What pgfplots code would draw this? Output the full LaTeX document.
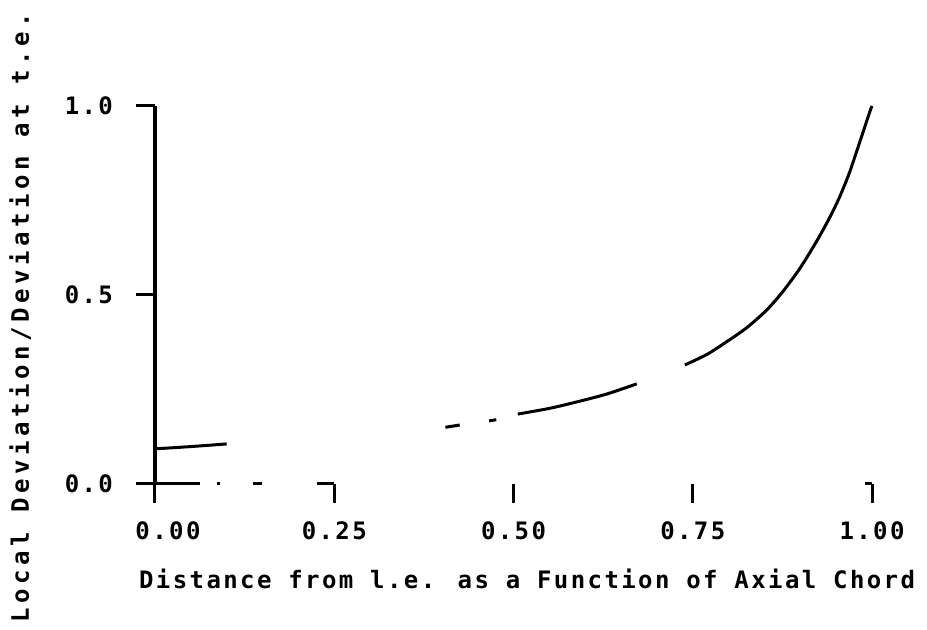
\documentclass[border=0pt]{standalone}
\usepackage{fontspec}
\setmainfont{DejaVu Sans Mono}[LetterSpace=10]
\usepackage{pgfplots}
\pgfplotsset{compat=1.18}

\begin{document}
\begin{tikzpicture}
\begin{axis}[
  width=358.5pt, height=189pt, scale only axis,
  xmin=0, xmax=1, ymin=0, ymax=1,
  axis x line*=bottom, axis y line*=left,
  x axis line style={draw=none},
  y axis line style={line width=1.6pt},
  tick align=outside,
  major tick length=9.5pt,
  every tick/.style={black, line width=1.5pt},
  xtick={0,0.25,0.5,0.75,1},
  xticklabels={\hspace*{13pt}0.00,0.25,0.50,0.75,1.00},
  ytick={0,0.5,1},
  yticklabels={0.0,0.5,1.0},
  font=\fontsize{12pt}{14pt}\selectfont\bfseries,
  xticklabel style={anchor=center, yshift=-14pt},
  yticklabel style={anchor=east, xshift=-8pt},
  xlabel={Distance from l.e. as a Function of Axial Chord},
  ylabel={\addfontfeatures{LetterSpace=19}Local Deviation/Deviation at t.e.},
  xlabel style={at={(axis description cs:0.519,-0.251)}, anchor=center},
  ylabel style={at={(axis description cs:-0.188,0.44)}, anchor=center},
  clip=false,
  unbounded coords=jump,
]
% surviving pieces of the zero line
\addplot[black, line width=1.5pt] coordinates {
  (-0.024,0) (0.063,0) (nan,nan)
  (0.086,0) (0.091,0) (nan,nan)
  (0.137,0) (0.149,0) (nan,nan)
  (0.226,0) (0.25,0) (nan,nan)
  (0.99,0) (1.0,0)
};
% deviation ratio
\addplot[black, line width=1.5pt, smooth] coordinates {
  (0,0.093) (0.05,0.099) (0.10,0.106) (nan,nan)
  (0.405,0.150) (0.425,0.156) (nan,nan)
  (0.466,0.167) (0.476,0.170) (nan,nan)
  (0.506,0.185) (0.55,0.200) (0.588,0.217) (0.63,0.238) (0.672,0.265) (nan,nan)
  (0.739,0.315) (0.770,0.343) (0.797,0.376) (0.825,0.413) (0.853,0.460)
  (0.876,0.510) (0.900,0.572) (0.923,0.643) (0.941,0.705) (0.955,0.760)
  (0.969,0.826) (0.983,0.905) (0.997,0.985) (1.0,1.0)
};
\coordinate (sw) at (rel axis cs:0,0);
\coordinate (ne) at (rel axis cs:1,1);
\end{axis}
\pgfresetboundingbox
\path ([xshift=-77.5pt, yshift=-73pt]sw) rectangle ([xshift=27.5pt, yshift=53pt]ne);
\end{tikzpicture}
\end{document}
